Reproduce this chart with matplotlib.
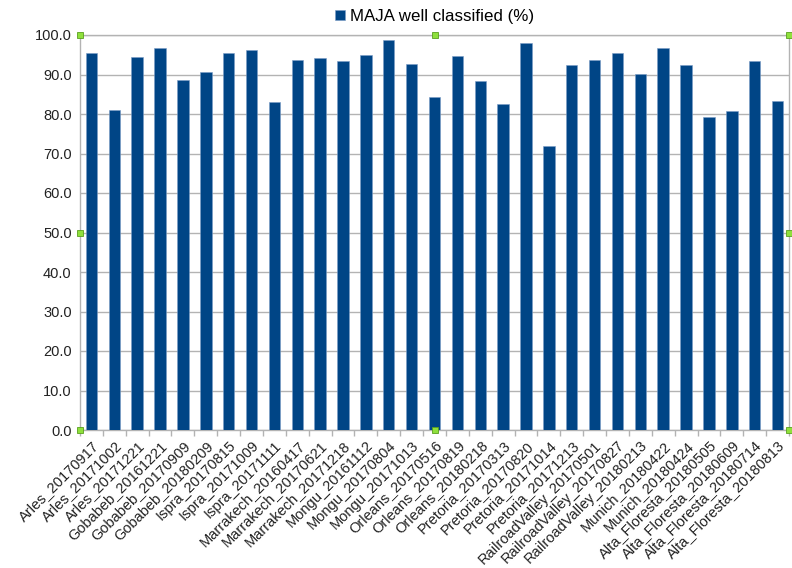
import matplotlib
matplotlib.use("Agg")
import matplotlib.pyplot as plt
import numpy as np

# categories (site_date) and share of pixels well classified by MAJA
sites = [
    "Arles_20170917", "Arles_20171002", "Arles_20171221",
    "Gobabeb_20161221", "Gobabeb_20170909", "Gobabeb_20180209",
    "Ispra_20170815", "Ispra_20171009", "Ispra_20171111",
    "Marrakech_20160417", "Marrakech_20170621", "Marrakech_20171218",
    "Mongu_20161112", "Mongu_20170804", "Mongu_20171013",
    "Orleans_20170516", "Orleans_20170819", "Orleans_20180218",
    "Pretoria_20170313", "Pretoria_20170820", "Pretoria_20171014", "Pretoria_20171213",
    "RailroadValley_20170501", "RailroadValley_20170827", "RailroadValley_20180213",
    "Munich_20180422", "Munich_20180424",
    "Alta_Floresta_20180505", "Alta_Floresta_20180609",
    "Alta_Floresta_20180714", "Alta_Floresta_20180813",
]
well_classified = [
    95.4, 81.1, 94.5,
    96.8, 88.7, 90.7,
    95.4, 96.3, 83.0,
    93.7, 94.2, 93.5,
    95.0, 98.8, 92.7,
    84.3, 94.8, 88.4,
    82.6, 98.1, 72.0, 92.3,
    93.6, 95.4, 90.1,
    96.8, 92.3,
    79.2, 80.8,
    93.5, 83.3,
]
yticks = np.arange(0, 101, 10)

plt.rcParams["font.family"] = ["Liberation Sans", "DejaVu Sans"]

fig = plt.figure(figsize=(7.92, 5.68), dpi=100)
ax = fig.add_axes([80 / 792, 138 / 568, 709 / 792, 395 / 568])

x = np.arange(len(sites))
ax.bar(x, well_classified, width=0.5, color="#004586", edgecolor="#7a9cc6",
       linewidth=0.4, zorder=3, label="MAJA well classified (%)")

ax.set_xlim(-0.5, len(sites) - 0.5)
ax.set_ylim(0, 100)
ax.set_yticks(yticks)
ax.set_yticklabels([f"{v:.1f}" for v in yticks])
ax.yaxis.grid(True, color="#b3b3b3", linewidth=1, zorder=0)

ax.set_xticks(x)
ax.set_xticklabels(sites, rotation=45, ha="right", rotation_mode="anchor")
ax.set_xticks(np.arange(len(sites) + 1) - 0.5, minor=True)
ax.tick_params(axis="x", which="major", length=0, pad=6, labelsize=10.5, labelcolor="#222222")
ax.tick_params(axis="x", which="minor", length=4, color="#b3b3b3", width=1)
ax.tick_params(axis="y", length=0, pad=6, labelsize=10.5, labelcolor="#222222")

for side in ["left", "right", "top", "bottom"]:
    ax.spines[side].set_color("#b3b3b3")
    ax.spines[side].set_linewidth(1)

leg = ax.legend(loc="lower center", bbox_to_anchor=(0.5, 1.0), frameon=False,
                fontsize=12.2, handlelength=0.6, handleheight=0.6, handletextpad=0.3,
                borderaxespad=0.25)

# selection handles as shown in the spreadsheet screenshot
hx = [0, 0.5, 1, 0, 1, 0, 0.5, 1]
hy = [1, 1, 1, 0.5, 0.5, 0, 0, 0]
ax.plot(hx, hy, "s", ms=5, mfc="#8fe03c", mec="#5aa01e", mew=0.6,
        transform=ax.transAxes, clip_on=False, zorder=10)

fig.savefig("out.png", dpi=100)
